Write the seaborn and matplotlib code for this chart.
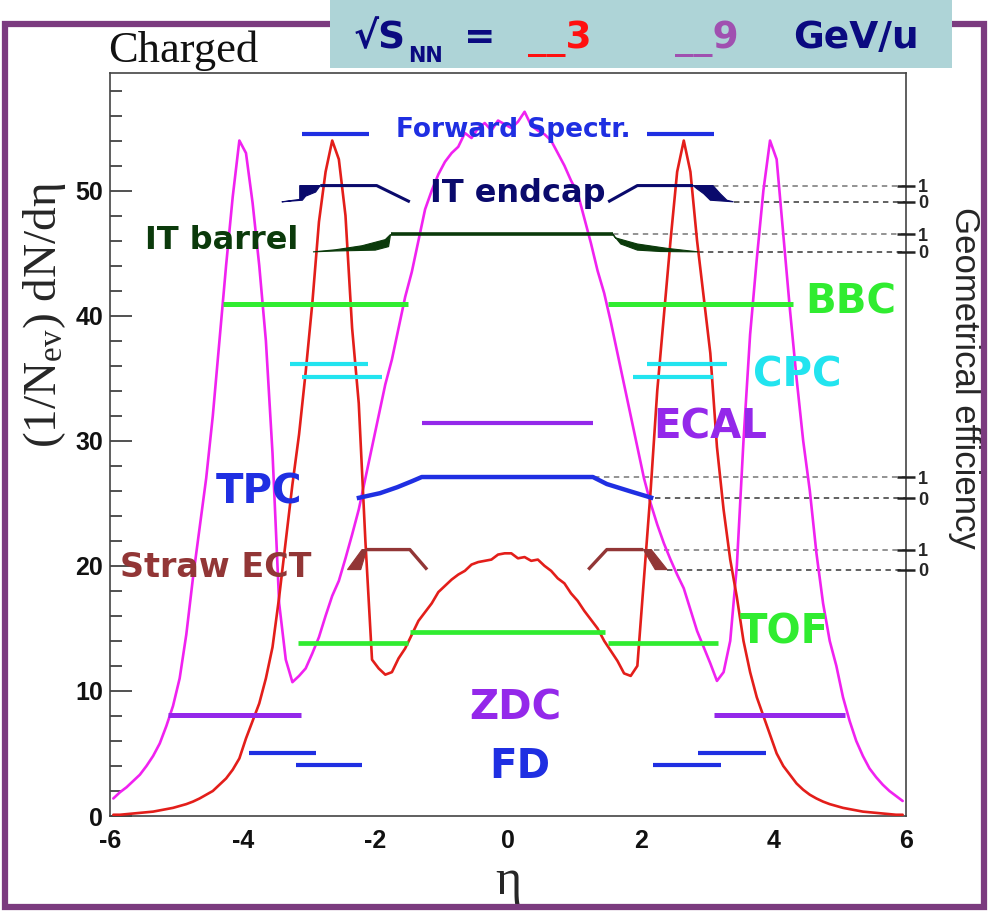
import numpy as np
import pandas as pd
import matplotlib
matplotlib.use("Agg")
import matplotlib.pyplot as plt
from matplotlib.patches import Rectangle
import seaborn as sns

# ---------------- charged-particle dN/deta, bins of width 0.1 ----------------
eta_centres = np.round(np.linspace(-5.95, 5.95, 120), 2)

dndeta_3gev = [
    0.1, 0.1, 0.15, 0.2, 0.25, 0.3, 0.35, 0.45, 0.55, 0.65,
    0.8, 0.95, 1.15, 1.4, 1.7, 2.0, 2.5, 3.0, 3.7, 4.6,
    6.2, 7.6, 9.0, 11.0, 13.5, 17.5, 22.0, 26.5, 30.5, 35.5,
    41.0, 47.5, 51.5, 54.0, 52.5, 48.0, 39.0, 33.0, 22.0, 12.5,
    11.8, 11.3, 11.5, 12.6, 13.4, 14.5, 15.6, 16.3, 17.0, 17.9,
    18.4, 18.9, 19.3, 19.6, 20.1, 20.3, 20.4, 20.5, 20.9, 21.0,
    21.0, 20.6, 20.7, 20.4, 20.5, 20.0, 19.6, 19.0, 18.6, 17.8,
    17.2, 16.4, 15.7, 15.0, 14.0, 13.2, 12.4, 11.4, 11.2, 12.0,
    19.0, 26.0, 34.0, 40.0, 46.0, 51.5, 54.0, 51.5, 46.0, 41.5,
    37.0, 29.5, 24.5, 20.5, 17.5, 14.0, 11.5, 9.5, 8.0, 6.5,
    5.0, 4.0, 3.3, 2.6, 2.1, 1.7, 1.4, 1.15, 0.95, 0.8,
    0.65, 0.55, 0.45, 0.35, 0.3, 0.25, 0.2, 0.15, 0.1, 0.1,
]

dndeta_9gev = [
    1.4, 1.9, 2.3, 2.8, 3.3, 4.0, 4.8, 5.8, 7.2, 8.8,
    11.0, 14.5, 19.0, 23.0, 27.0, 32.0, 38.0, 44.0, 49.5, 54.0,
    53.0, 49.0, 44.0, 38.0, 29.0, 17.0, 12.5, 10.7, 11.2, 11.8,
    13.0, 14.3, 16.0, 17.6, 18.8, 20.6, 22.5, 24.5, 27.0, 29.5,
    32.0, 34.5, 36.5, 39.0, 41.5, 43.5, 46.0, 48.5, 50.0, 51.3,
    52.3, 53.0, 53.5, 54.6, 54.2, 55.0, 55.4, 54.8, 55.6, 55.3,
    55.0, 55.5, 56.3, 55.2, 54.8, 54.5, 54.0, 53.0, 52.0, 50.8,
    49.8, 47.8, 45.8, 43.6, 41.8, 39.5, 37.0, 34.5, 32.0, 29.5,
    27.0, 25.0, 23.3, 21.8, 20.5, 19.3, 18.2, 16.5, 14.8, 13.5,
    12.2, 10.8, 11.5, 14.0, 20.0, 30.0, 38.5, 44.5, 50.0, 54.0,
    52.5, 46.5, 40.5, 35.0, 30.0, 26.0, 21.0, 17.0, 14.0, 12.0,
    9.5, 7.6, 6.0, 4.8, 3.8, 3.1, 2.5, 2.0, 1.6, 1.2,
]

energies = ["3", "9"]

# ---------------- detector acceptance bars (eta ranges, bar height) ----------
fwd_lo, fwd_hi, fwd_y = [-3.10, 2.10], [-2.10, 3.10], 54.5
bbc_lo, bbc_hi, bbc_y = [-4.30, 1.51], [-1.51, 4.30], 40.9
cpc1_lo, cpc1_hi, cpc1_y = [-3.29, 2.10], [-2.11, 3.30], 36.1
cpc2_lo, cpc2_hi, cpc2_y = [-3.10, 1.89], [-1.90, 3.09], 35.1
ecal_lo, ecal_hi, ecal_y = [-1.30], [1.28], 31.4
tofc_lo, tofc_hi, tofc_y = [-1.48], [1.46], 14.7
tofs_lo, tofs_hi, tofs_y = [-3.17, 1.51], [-1.51, 3.17], 13.8
zdc_lo, zdc_hi, zdc_y = [-5.13, 3.10], [-3.12, 5.08], 8.1
fd1_lo, fd1_hi, fd1_y = [-3.90, 2.86], [-2.89, 3.89], 5.0
fd2_lo, fd2_hi, fd2_y = [-3.20, 2.19], [-2.20, 3.21], 4.1

# ---------------- geometrical efficiency curves (0..1) -----------------------
# each detector has its own 0 and 1 level on the right-hand axis
endcap_levels = (49.1, 50.4)
endcap_line_l = ([-2.83, -1.98, -1.48], [1.0, 1.0, 0.0])
endcap_line_r = ([1.51, 1.95, 2.79], [0.0, 1.0, 1.0])
endcap_fill_l = ([-3.41, -3.14, -3.14, -2.83, -2.90, -3.05, -3.10],
                 [0.0, 0.15, 1.0, 1.0, 0.6, 0.35, 0.1])
endcap_fill_r = ([2.79, 3.09, 3.20, 3.30, 3.40, 3.05, 2.95, 2.85],
                 [1.0, 1.0, 0.5, 0.1, 0.0, 0.1, 0.5, 0.8])

barrel_levels = (45.1, 46.5)
barrel_line = ([-1.77, 1.58], [1.0, 1.0])
barrel_fill_l = ([-2.94, -2.60, -2.20, -1.85, -1.77, -1.80, -2.00, -2.60],
                 [0.0, 0.12, 0.35, 0.7, 1.0, 0.3, 0.1, 0.05])
barrel_fill_r = ([1.58, 1.62, 1.95, 2.40, 2.87, 2.30, 1.95, 1.70],
                 [1.0, 0.8, 0.45, 0.2, 0.0, 0.02, 0.1, 0.45])

tpc_levels = (25.4, 27.1)
tpc_line = ([-2.28, -1.93, -1.67, -1.45, -1.30, 1.28, 1.49, 1.84, 2.19],
            [0.0, 0.24, 0.52, 0.8, 1.0, 1.0, 0.67, 0.33, 0.0])

straw_levels = (19.7, 21.3)
straw_line_l = ([-2.13, -1.48, -1.22], [1.0, 1.0, 0.0])
straw_line_r = ([1.21, 1.49, 2.04], [0.0, 1.0, 1.0])
straw_fill_l = ([-2.42, -2.22, -2.13, -2.20], [0.0, 0.0, 1.0, 1.0])
straw_fill_r = ([2.04, 2.16, 2.40, 2.22], [1.0, 1.0, 0.0, 0.0])

# where the dashed guide lines to the right axis begin (eta) for level 1 / 0
guide_starts = {
    "endcap": (3.09, 3.40),
    "barrel": (1.58, 2.87),
    "tpc": (1.30, 2.22),
    "straw": (2.20, 2.40),
}

# ---------------- colours ----------------
RED = "#e31e1a"
MAGENTA = "#f022f0"
BLUE = "#1f2fe2"
NAVY = "#0a0a6c"
DKGREEN = "#0b3a0b"
GREEN = "#30ec30"
CYAN = "#22e4ef"
PURPLE = "#9428ea"
BROWN = "#923636"
FRAME = "#7b3b7f"
HEADER_BG = "#aed4d7"

sns.set_style("white")
plt.rcParams["font.family"] = ["Liberation Sans", "DejaVu Sans"]
plt.rcParams["mathtext.fontset"] = "custom"
plt.rcParams["mathtext.rm"] = "Liberation Serif"
plt.rcParams["mathtext.it"] = "Liberation Serif:italic"
plt.rcParams["axes.unicode_minus"] = False

W, H = 989, 911
fig = plt.figure(figsize=(W / 100, H / 100), dpi=100)
fig.patch.set_facecolor("white")

AX_L, AX_R, AX_T, AX_B = 110, 906, 73, 816
ax = fig.add_axes([AX_L / W, 1 - AX_B / H, (AX_R - AX_L) / W, (AX_B - AX_T) / H])
ax.set_xlim(-6, 6)
ax.set_ylim(0, 59.4)

# ---------------- histograms ----------------
df = pd.DataFrame({
    "eta": np.concatenate([eta_centres, eta_centres]),
    "dndeta": dndeta_3gev + dndeta_9gev,
    "energy": [energies[0]] * len(eta_centres) + [energies[1]] * len(eta_centres),
})
sns.lineplot(data=df, x="eta", y="dndeta", hue="energy", hue_order=["9", "3"],
             palette={"3": RED, "9": MAGENTA},
             estimator=None, legend=False, lw=1.9, ax=ax, zorder=3)

# ---------------- acceptance bars ----------------
def bars(lo, hi, y, color, lw=3.0):
    ax.hlines([y] * len(lo), lo, hi, colors=color, lw=lw, zorder=4)

bars(fwd_lo, fwd_hi, fwd_y, BLUE)
bars(bbc_lo, bbc_hi, bbc_y, GREEN, 3.6)
bars(cpc1_lo, cpc1_hi, cpc1_y, CYAN)
bars(cpc2_lo, cpc2_hi, cpc2_y, CYAN)
bars(ecal_lo, ecal_hi, ecal_y, PURPLE)
bars(tofc_lo, tofc_hi, tofc_y, GREEN, 3.4)
bars(tofs_lo, tofs_hi, tofs_y, GREEN, 3.4)
bars(zdc_lo, zdc_hi, zdc_y, PURPLE, 3.6)
bars(fd1_lo, fd1_hi, fd1_y, BLUE)
bars(fd2_lo, fd2_hi, fd2_y, BLUE)

# ---------------- efficiency curves ----------------
def to_y(eff, levels):
    lo, hi = levels
    return [lo + e * (hi - lo) for e in eff]

def eff_line(curve, levels, color, lw=2.2):
    ax.plot(curve[0], to_y(curve[1], levels), color=color, lw=lw,
            solid_capstyle="butt", zorder=4)

def eff_fill(shape, levels, color):
    ax.fill(shape[0], to_y(shape[1], levels), color=color, lw=0.8, zorder=4)

eff_line(endcap_line_l, endcap_levels, NAVY)
eff_line(endcap_line_r, endcap_levels, NAVY)
eff_fill(endcap_fill_l, endcap_levels, NAVY)
eff_fill(endcap_fill_r, endcap_levels, NAVY)

eff_line(barrel_line, barrel_levels, DKGREEN, 2.6)
eff_fill(barrel_fill_l, barrel_levels, DKGREEN)
eff_fill(barrel_fill_r, barrel_levels, DKGREEN)

eff_line(tpc_line, tpc_levels, BLUE, 3.2)

eff_line(straw_line_l, straw_levels, BROWN, 2.4)
eff_line(straw_line_r, straw_levels, BROWN, 2.4)
eff_fill(straw_fill_l, straw_levels, BROWN)
eff_fill(straw_fill_r, straw_levels, BROWN)

level_map = {"endcap": endcap_levels, "barrel": barrel_levels,
             "tpc": tpc_levels, "straw": straw_levels}
for key, (s1, s0) in guide_starts.items():
    lo, hi = level_map[key]
    ax.plot([s1, 6], [hi, hi], ls=(0, (3, 2.5)), color="#8a8a8a", lw=1.3, zorder=2)
    ax.plot([s0, 6], [lo, lo], ls=(0, (3, 2.5)), color="#555555", lw=1.3, zorder=2)

# ---------------- detector labels ----------------
labels = [
    ("Forward Spectr.", 0.08, 54.3, BLUE, 19),
    ("IT endcap", 0.14, 49.1, NAVY, 23),
    ("IT barrel", -4.31, 45.3, DKGREEN, 23),
    ("BBC", 5.16, 40.2, GREEN, 29),
    ("CPC", 4.36, 34.3, CYAN, 29),
    ("ECAL", 3.05, 30.2, PURPLE, 29),
    ("TPC", -3.75, 25.0, BLUE, 29),
    ("Straw ECT", -4.40, 19.1, BROWN, 24),
    ("TOF", 4.16, 13.8, GREEN, 29),
    ("ZDC", 0.11, 7.7, PURPLE, 29),
    ("FD", 0.18, 3.0, BLUE, 29),
]
for text, x, y, color, size in labels:
    ax.text(x, y, text, color=color, fontsize=size, fontweight="bold",
            family="DejaVu Sans", ha="center", va="baseline", zorder=5)

# ---------------- axes styling ----------------
ax.set_xticks([-6, -4, -2, 0, 2, 4, 6])
ax.set_xticks(np.arange(-6, 6.01, 0.5), minor=True)
ax.set_yticks([0, 10, 20, 30, 40, 50])
ax.set_yticks(np.arange(0, 59, 2), minor=True)
ax.tick_params(which="both", direction="in", color="#333333", width=1.2,
               top=False, right=False, labelsize=18, labelcolor="#111111")
ax.tick_params(which="major", length=16)
ax.tick_params(which="minor", length=8.5)
ax.tick_params(axis="x", pad=9)
ax.tick_params(axis="y", pad=5)
for lab in ax.get_xticklabels() + ax.get_yticklabels():
    lab.set_fontweight("bold")
for sp in ax.spines.values():
    sp.set_color("#444444")
    sp.set_linewidth(1.2)

ax.set_xlabel("\u03b7", fontsize=36, family="Liberation Serif")
ax.xaxis.set_label_coords(0.5, -0.088)
ax.xaxis.label.set(va="center", ha="center")
ax.set_ylabel("(1/N$_{\\rm ev}$) dN/d\u03b7", fontsize=34, family="Liberation Serif")
ax.yaxis.set_label_coords(-0.082, 0.674)
ax.yaxis.label.set(va="center", ha="center")

# right-hand efficiency axis
ax2 = ax.twinx()
ax2.set_ylim(ax.get_ylim())
eff_ticks = [endcap_levels[1], endcap_levels[0], barrel_levels[1], barrel_levels[0],
             tpc_levels[1], tpc_levels[0], straw_levels[1], straw_levels[0]]
ax2.set_yticks(eff_ticks)
ax2.set_yticklabels(["1", "0"] * 4)
ax2.tick_params(axis="y", direction="inout", length=13, width=1.8, color="#222222",
                pad=2, labelsize=13)
for lab in ax2.get_yticklabels():
    lab.set_fontweight("bold")
for sp in ax2.spines.values():
    sp.set_visible(False)
ax2.set_ylabel("Geometrical efficiency", fontsize=25, rotation=-90)
ax2.yaxis.set_label_coords(1.074, 0.59)
ax2.yaxis.label.set(va="center", ha="center")

# ---------------- page decorations ----------------
fig.add_artist(Rectangle((5 / W, 1 - 907 / H), 979 / W, (907 - 24) / H,
                         transform=fig.transFigure, fill=False,
                         edgecolor=FRAME, lw=4.5, zorder=8))
fig.add_artist(Rectangle((330 / W, 1 - 68 / H), 622 / W, 70 / H,
                         transform=fig.transFigure, facecolor=HEADER_BG,
                         edgecolor="none", zorder=9))

def fig_text(px, py, s, **kw):
    fig.text(px / W, 1 - py / H, s, zorder=10, **kw)

fig_text(108, 62, "Charged", family="Liberation Serif", fontsize=32,
         color="#111111", ha="left", va="baseline")
hdr = dict(family="DejaVu Sans", fontweight="bold", va="baseline", ha="center")
fig_text(380, 48, "\u221aS", fontsize=27, color="#0a0a80", **hdr)
fig_text(426, 62, "NN", fontsize=15, color="#0a0a80", **hdr)
fig_text(480, 48, "=", fontsize=27, color="#0a0a80", **hdr)
fig_text(560, 48, "__3", fontsize=27, color="#ff1010", **hdr)
fig_text(707, 48, "__9", fontsize=27, color="#a050b0", **hdr)
fig_text(856, 48, "GeV/u", fontsize=27, color="#0a0a80", **hdr)

fig.savefig("out.png", dpi=100)
